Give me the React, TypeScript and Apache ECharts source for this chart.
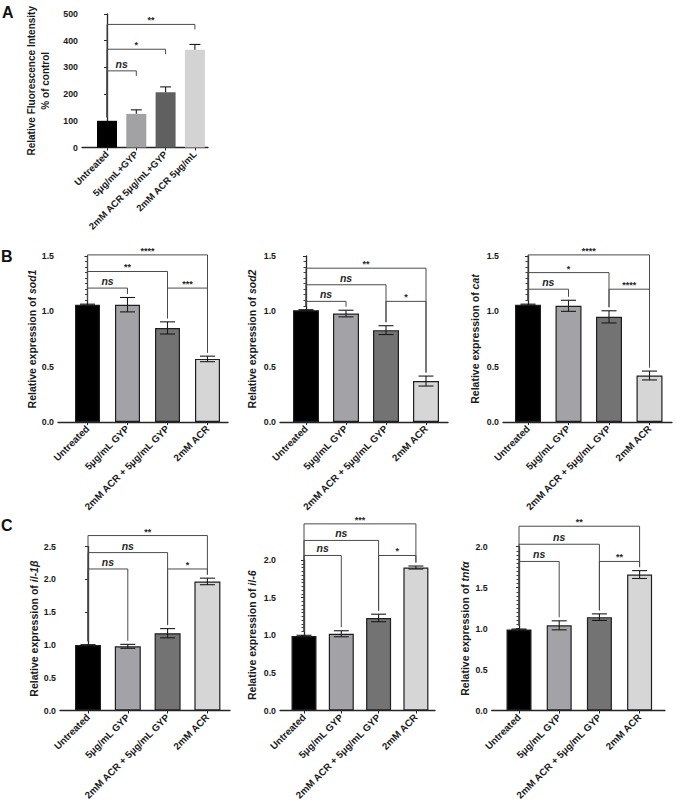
import React, { useEffect, useRef } from "react";
import * as echarts from "echarts";

// ---------- data ----------
const catsA = ["Untreated", "5μg/mL+GYP", "2mM ACR 5μg/mL+GYP", "2mM ACR 5μg/mL"];
const catsBC = ["Untreated", "5μg/mL GYP", "2mM ACR + 5μg/mL GYP", "2mM ACR"];

const rosMean = [100, 126, 207, 366];
const rosErr = [0, 15, 20, 20];

const sod1Mean = [1.06, 1.06, 0.85, 0.57];
const sod1Err = [0.005, 0.065, 0.055, 0.025];
const sod2Mean = [1.01, 0.98, 0.83, 0.37];
const sod2Err = [0.005, 0.03, 0.04, 0.045];
const catMean = [1.06, 1.05, 0.95, 0.42];
const catErr = [0.005, 0.05, 0.055, 0.04];

const il1bMean = [1.0, 0.98, 1.18, 1.97];
const il1bErr = [0.005, 0.03, 0.07, 0.05];
const il6Mean = [0.99, 1.02, 1.23, 1.9];
const il6Err = [0.01, 0.04, 0.05, 0.02];
const tnfaMean = [0.99, 1.04, 1.14, 1.66];
const tnfaErr = [0.005, 0.055, 0.04, 0.048];

// brackets: [from, to, level, label]
const bracketsA: [number, number, number, string][] = [
  [0, 1, 287, "ns"],
  [0, 2, 368, "*"],
  [0, 3, 461, "**"],
];
const bracketsSod1: [number, number, number, string][] = [
  [0, 1, 1.21, "ns"],
  [2, 3, 1.21, "***"],
  [0, 2, 1.36, "**"],
  [0, 3, 1.51, "****"],
];
const bracketsSod2: [number, number, number, string][] = [
  [0, 1, 1.09, "ns"],
  [2, 3, 1.09, "*"],
  [0, 2, 1.24, "ns"],
  [0, 3, 1.39, "**"],
];
const bracketsCat: [number, number, number, string][] = [
  [0, 1, 1.2, "ns"],
  [2, 3, 1.2, "****"],
  [0, 2, 1.35, "*"],
  [0, 3, 1.51, "****"],
];
const bracketsIl1b: [number, number, number, string][] = [
  [0, 1, 2.16, "ns"],
  [2, 3, 2.16, "*"],
  [0, 2, 2.41, "ns"],
  [0, 3, 2.67, "**"],
];
const bracketsIl6: [number, number, number, string][] = [
  [0, 1, 2.06, "ns"],
  [2, 3, 2.06, "*"],
  [0, 2, 2.26, "ns"],
  [0, 3, 2.48, "***"],
];
const bracketsTnfa: [number, number, number, string][] = [
  [0, 1, 1.82, "ns"],
  [2, 3, 1.82, "**"],
  [0, 2, 2.03, "ns"],
  [0, 3, 2.25, "**"],
];

// ---------- layout / style ----------
const FONT = "'Liberation Sans', Arial, Helvetica, sans-serif";
const colorsA = ["#000000", "#a2a2a4", "#606060", "#d3d3d3"];
const colorsBC = ["#000000", "#a3a3a7", "#737373", "#d6d6d6"];

type Panel = {
  name: string;
  cats: string[];
  mean: number[];
  err: number[];
  brackets: [number, number, number, string][];
  yMax: number;
  yStep: number;
  axisX: number;
  firstX: number;
  stepX: number;
  endX: number;
  topY: number;
  zeroY: number;
  nameGap: number;
  barWidth: number;
  variant: "A" | "BC";
  minor: boolean;
};

const panels: Panel[] = [
  {
    name: "Relative Fluorescence Intensity\n% of control",
    cats: catsA, mean: rosMean, err: rosErr, brackets: bracketsA,
    yMax: 500, yStep: 100,
    axisX: 82, firstX: 107, stepX: 29.3, endX: 208, topY: 14, zeroY: 147.5,
    nameGap: 30, barWidth: 20, variant: "A", minor: false,
  },
  {
    name: "Relative expression of {i|sod1}",
    cats: catsBC, mean: sod1Mean, err: sod1Err, brackets: bracketsSod1,
    yMax: 1.5, yStep: 0.5,
    axisX: 58, firstX: 87.5, stepX: 40, endX: 228, topY: 256, zeroY: 422,
    nameGap: 17, barWidth: 25, variant: "BC", minor: true,
  },
  {
    name: "Relative expression of {i|sod2}",
    cats: catsBC, mean: sod2Mean, err: sod2Err, brackets: bracketsSod2,
    yMax: 1.5, yStep: 0.5,
    axisX: 280, firstX: 306, stepX: 40, endX: 448, topY: 256, zeroY: 422,
    nameGap: 22, barWidth: 26, variant: "BC", minor: true,
  },
  {
    name: "Relative expression of {i|cat}",
    cats: catsBC, mean: catMean, err: catErr, brackets: bracketsCat,
    yMax: 1.5, yStep: 0.5,
    axisX: 503, firstX: 528, stepX: 40.5, endX: 672, topY: 256, zeroY: 422,
    nameGap: 22, barWidth: 26, variant: "BC", minor: true,
  },
  {
    name: "Relative expression of {i|il-1β}",
    cats: catsBC, mean: il1bMean, err: il1bErr, brackets: bracketsIl1b,
    yMax: 2.5, yStep: 0.5,
    axisX: 60, firstX: 88, stepX: 39.8, endX: 230, topY: 546.7, zeroY: 712.3,
    nameGap: 20, barWidth: 26, variant: "BC", minor: false,
  },
  {
    name: "Relative expression of {i|il-6}",
    cats: catsBC, mean: il6Mean, err: il6Err, brackets: bracketsIl6,
    yMax: 2.0, yStep: 0.5,
    axisX: 280, firstX: 304, stepX: 37.3, endX: 435, topY: 560, zeroY: 715,
    nameGap: 22, barWidth: 25, variant: "BC", minor: true,
  },
  {
    name: "Relative expression of {i|tnfα}",
    cats: catsBC, mean: tnfaMean, err: tnfaErr, brackets: bracketsTnfa,
    yMax: 2.0, yStep: 0.5,
    axisX: 491.7, firstX: 519, stepX: 40.2, endX: 665, topY: 546.7, zeroY: 712.3,
    nameGap: 21, barWidth: 25, variant: "BC", minor: true,
  },
];

function buildOption() {
  const grid: any[] = [];
  const xAxis: any[] = [];
  const yAxis: any[] = [];
  const series: any[] = [];

  panels.forEach((p, k) => {
    const xMin = -(p.firstX - p.axisX) / p.stepX;
    const xMax = xMin + (p.endX - p.axisX) / p.stepX;
    const isA = p.variant === "A";
    const colors = isA ? colorsA : colorsBC;
    const axisColor = "#262626";
    const titleSize = isA ? 10 : 10.5;

    grid.push({
      left: p.axisX,
      top: p.topY,
      width: p.endX - p.axisX,
      height: p.zeroY - p.topY,
      containLabel: false,
    });

    xAxis.push({
      gridIndex: k,
      type: "value",
      min: xMin,
      max: xMax,
      axisLine: { show: true, onZero: false, lineStyle: { color: axisColor, width: 1.3 } },
      axisTick: {
        show: true,
        customValues: [0, 1, 2, 3],
        length: 3,
        lineStyle: { color: axisColor, width: 1 },
      },
      axisLabel: {
        customValues: [0, 1, 2, 3],
        formatter: (v: number) => p.cats[Math.round(v)] ?? "",
        rotate: 45,
        fontSize: isA ? 9.5 : 9.8,
        fontWeight: "bold",
        fontFamily: FONT,
        color: "#1a1a1a",
        margin: 5,
      },
      splitLine: { show: false },
    });

    yAxis.push({
      gridIndex: k,
      type: "value",
      min: 0,
      max: p.yMax,
      interval: p.yStep,
      axisLine: { show: true, lineStyle: { color: axisColor, width: 1.3 } },
      axisTick: { show: true, length: 3, lineStyle: { color: axisColor, width: 1 } },
      minorTick: { show: p.minor, splitNumber: 10, length: 2.5, lineStyle: { color: axisColor, width: 0.9 } },
      minorSplitLine: { show: false },
      axisLabel: {
        fontSize: 8.8,
        fontWeight: "bold",
        fontFamily: FONT,
        color: "#1a1a1a",
        margin: 4,
        formatter: (v: number) => (p.yStep < 1 ? v.toFixed(1) : String(v)),
      },
      splitLine: { show: false },
      name: p.name,
      nameLocation: "middle",
      nameGap: p.nameGap,
      nameTextStyle: {
        fontSize: titleSize,
        fontWeight: "bold",
        fontFamily: FONT,
        color: "#1a1a1a",
        lineHeight: isA ? 14 : 12,
        rich: {
          i: { fontSize: titleSize, fontWeight: "bold", fontStyle: "italic", fontFamily: FONT, color: "#1a1a1a" },
        },
      },
    });

    series.push({
      type: "bar",
      xAxisIndex: k,
      yAxisIndex: k,
      barWidth: p.barWidth,
      z: 2,
      data: p.mean.map((m, i) => ({
        value: [i, m],
        itemStyle: {
          color: colors[i],
          borderColor: isA ? colors[i] : "#1f1f1f",
          borderWidth: isA ? 0 : 1.2,
        },
      })),
    });

    const cap = isA ? 5.5 : 7.5;
    series.push({
      type: "custom",
      xAxisIndex: k,
      yAxisIndex: k,
      z: 3,
      clip: false,
      encode: { x: 0, y: 1 },
      data: p.mean.map((m, i) => [i, m, p.err[i]]),
      renderItem: (params: any, api: any) => {
        const x = api.value(0);
        const m = api.value(1);
        const e = api.value(2);
        if (e <= 0) return { type: "group", children: [] };
        const top = api.coord([x, m + e]);
        const mid = api.coord([x, m]);
        const bot = api.coord([x, m - e]);
        const style = { stroke: "#1a1a1a", lineWidth: 1.1, fill: null };
        const children: any[] = [
          { type: "line", shape: { x1: top[0], y1: top[1], x2: top[0], y2: isA ? mid[1] : bot[1] }, style },
          { type: "line", shape: { x1: top[0] - cap, y1: top[1], x2: top[0] + cap, y2: top[1] }, style },
        ];
        if (!isA) {
          children.push({ type: "line", shape: { x1: bot[0] - cap, y1: bot[1], x2: bot[0] + cap, y2: bot[1] }, style });
        }
        return { type: "group", children };
      },
    });

    series.push({
      type: "custom",
      xAxisIndex: k,
      yAxisIndex: k,
      z: 4,
      clip: false,
      encode: { x: 0, y: 2 },
      data: p.brackets.map((b) => [b[0], b[1], b[2]]),
      renderItem: (params: any, api: any) => {
        const b = p.brackets[params.dataIndex];
        const i = b[0];
        const j = b[1];
        const lvl = b[2];
        const label = b[3];
        const pl = api.coord([i, lvl]);
        const pr = api.coord([j, lvl]);
        const y = pl[1];
        const legBottom = (c: number, isLeft: boolean) => {
          if (isA && !isLeft) return y + 5;
          const t = api.coord([c, p.mean[c] + p.err[c]]);
          return t[1] - 3.5;
        };
        const isNs = label === "ns";
        return {
          type: "group",
          children: [
            {
              type: "polyline",
              shape: {
                points: [
                  [pl[0], legBottom(i, true)],
                  [pl[0], y],
                  [pr[0], y],
                  [pr[0], legBottom(j, false)],
                ],
              },
              style: { stroke: "#4a4a4a", lineWidth: 1, fill: null },
            },
            {
              type: "text",
              x: (pl[0] + pr[0]) / 2,
              y: isNs ? y - 7 : y - 4,
              style: {
                text: label,
                align: "center",
                verticalAlign: "middle",
                fontSize: isNs ? 10.5 : 9,
                fontWeight: "bold",
                fontStyle: isNs ? "italic" : "normal",
                fontFamily: FONT,
                fill: "#262626",
              },
            },
          ],
        };
      },
    });
  });

  const letter = (t: string, x: number, y: number) => ({
    type: "text",
    left: x,
    top: y,
    style: { text: t, fontSize: 16, fontWeight: "bold", fontFamily: FONT, fill: "#111" },
  });

  return {
    animation: false,
    backgroundColor: "#ffffff",
    grid,
    xAxis,
    yAxis,
    series,
    graphic: [letter("A", 2, 4), letter("B", 1, 248), letter("C", 1, 517)],
  };
}

export default function App() {
  const ref = useRef<HTMLDivElement>(null);
  useEffect(() => {
    if (!ref.current) return;
    const chart = echarts.init(ref.current, undefined, { renderer: "svg" });
    chart.setOption(buildOption() as any);
    return () => chart.dispose();
  }, []);
  return (
    <div
      ref={ref}
      style={{ position: "fixed", left: 0, top: 0, width: 677, height: 803, background: "#fff" }}
    />
  );
}
